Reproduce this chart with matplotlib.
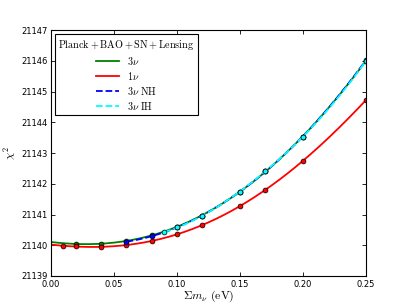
import matplotlib
matplotlib.use('Agg')
import matplotlib.pyplot as plt
import numpy as np

plt.rcParams['mathtext.fontset'] = 'cm'
plt.rcParams['xtick.direction'] = 'in'
plt.rcParams['ytick.direction'] = 'in'
plt.rcParams['xtick.top'] = True
plt.rcParams['ytick.right'] = True

# data
x_3nu = [0.02, 0.04, 0.06, 0.08, 0.10, 0.12, 0.15, 0.17, 0.20, 0.25]
y_3nu = [21140.04, 21140.05, 21140.15, 21140.32, 21140.60, 21140.96,
         21141.74, 21142.41, 21143.53, 21146.00]

x_1nu = [0.01, 0.02, 0.04, 0.06, 0.08, 0.10, 0.12, 0.15, 0.17, 0.20, 0.25]
y_1nu = [21139.98, 21139.96, 21139.95, 21140.01, 21140.13, 21140.35,
         21140.67, 21141.27, 21141.79, 21142.75, 21144.72]

x_nh = [0.06, 0.08, 0.10, 0.12, 0.15, 0.17, 0.20, 0.25]
y_nh = [21140.11, 21140.31, 21140.58, 21140.95, 21141.74, 21142.41,
        21143.53, 21146.02]

x_ih = [0.09, 0.10, 0.12, 0.15, 0.17, 0.20, 0.25]
y_ih = [21140.42, 21140.59, 21140.95, 21141.74, 21142.41, 21143.53, 21146.00]


def smooth(x, y, x0, deg=4):
    c = np.polyfit(x, y, deg)
    xx = np.linspace(x0, max(x), 200)
    return xx, np.polyval(c, xx)


fig = plt.figure(figsize=(4.07, 3.07), dpi=100)
ax = fig.add_axes([0.125, 0.101, 0.774, 0.801])

series = [
    (x_3nu, y_3nu, 0.0, 'g', '-', r'$3\nu$'),
    (x_1nu, y_1nu, 0.0, 'r', '-', r'$1\nu$'),
    (x_nh, y_nh, 0.06, 'b', '--', r'$3\nu\ \mathrm{NH}$'),
    (x_ih, y_ih, 0.09, 'cyan', '--', r'$3\nu\ \mathrm{IH}$'),
]
for x, y, x0, col, ls, lab in series:
    xx, yy = smooth(x, y, x0)
    ax.plot(xx, yy, color=col, ls=ls, lw=1.3, label=lab)
    ax.plot(x, y, 'o', color=col, mec='k', mew=0.5, ms=3.5)

ax.set_xlim(0, 0.25)
ax.set_ylim(21139, 21147)
ax.set_xticks([0.0, 0.05, 0.10, 0.15, 0.20, 0.25])
ax.set_xticklabels(['0.00', '0.05', '0.10', '0.15', '0.20', '0.25'])
ax.set_yticks(range(21139, 21148))
ax.set_yticklabels([str(v) for v in range(21139, 21148)])
ax.tick_params(labelsize=6, length=3, width=0.6, pad=2)
ax.tick_params(axis='x', pad=3)
for s in ax.spines.values():
    s.set_linewidth(0.8)

ax.set_xlabel(r'$\Sigma m_\nu\ \mathrm{(eV)}$', fontsize=8.5, labelpad=0)
ax.set_ylabel(r'$\chi^2$', fontsize=8.5, labelpad=3)

leg = ax.legend(loc='upper left', fontsize=7.3,
                title=r'$\mathrm{Planck+BAO+SN+Lensing}$',
                fancybox=False, framealpha=1, edgecolor='k',
                handlelength=2.2, borderaxespad=0.4,
                labelspacing=0.3, borderpad=0.35)
leg.get_title().set_fontsize(7.3)
leg.get_frame().set_linewidth(0.8)

fig.savefig('out.png', dpi=100)
